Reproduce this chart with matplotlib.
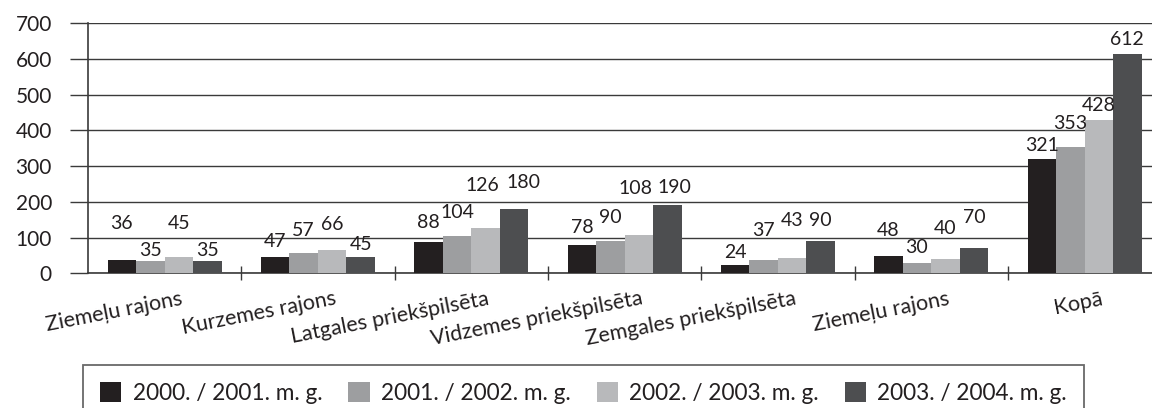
import numpy as np
import matplotlib
matplotlib.use("Agg")
import matplotlib.pyplot as plt
from matplotlib.patches import Patch
from matplotlib.transforms import ScaledTranslation

plt.rcParams['font.family'] = ['Lato', 'DejaVu Sans']

categories = ["Ziemeļu rajons", "Kurzemes rajons", "Latgales priekšpilsēta",
              "Vidzemes priekšpilsēta", "Zemgales priekšpilsēta",
              "Ziemeļu rajons", "Kopā"]
series_names = ["2000. / 2001. m. g.", "2001. / 2002. m. g.",
                "2002. / 2003. m. g.", "2003. / 2004. m. g."]
y2000 = [36, 47, 88, 78, 24, 48, 321]
y2001 = [35, 57, 104, 90, 37, 30, 353]
y2002 = [45, 66, 126, 108, 43, 40, 428]
y2003 = [35, 45, 180, 190, 90, 70, 612]
yticks = [0, 100, 200, 300, 400, 500, 600, 700]

# style: how far above its bar each value label sits (the original staggers them)
lift2000 = [104, 43, 55, 51, 35, 72, 37]
lift2001 = [29, 63, 67, 67, 83, 43, 67]
lift2002 = [95, 71, 120, 130, 105, 86, 40]
lift2003 = [29, 36, 75, 51, 58, 87, 43]
# small sideways nudges (pixels) of a few labels, keyed (series, group)
nudge = {(2, 2): -3, (3, 2): 9, (2, 3): -3, (3, 3): 7}

colors = ['#231f20', '#9d9ea0', '#b8b9bb', '#4d4e50']
txt = '#231f20'
grid = '#3a3a3a'

fig = plt.figure(figsize=(11.52, 4.08), dpi=100)
ax = fig.add_axes([88 / 1152, 0.330, 1 - 88 / 1152, 0.6136])

x = np.arange(len(categories))
w = 0.186
all_series = [y2000, y2001, y2002, y2003]
all_lifts = [lift2000, lift2001, lift2002, lift2003]
for i, (vals, lifts) in enumerate(zip(all_series, all_lifts)):
    xs = x + (i - 1.5) * w
    ax.bar(xs, vals, width=w, color=colors[i], zorder=3)
    for j, (xx, v, l) in enumerate(zip(xs, vals, lifts)):
        t = ax.text(xx, v + l, str(v), ha='center', va='center',
                    fontsize=14, color=txt, zorder=4)
        if (i, j) in nudge:
            t.set_transform(ax.transData + ScaledTranslation(
                nudge[(i, j)] / 100, 0, fig.dpi_scale_trans))

ax.set_xlim(-0.5, 6.44)
ax.set_ylim(0, 700)
ax.set_yticks(yticks)
ax.yaxis.grid(True, color=grid, linewidth=1)
ax.set_axisbelow(True)
ax.tick_params(axis='y', length=13, width=1, color=grid, pad=13,
               labelsize=15, labelcolor=txt)

# group separators as major ticks, names on minor ticks
ax.set_xticks(np.arange(0.5, 6.5, 1.0))
ax.set_xticklabels([])
ax.tick_params(axis='x', which='major', direction='inout', length=10,
               width=1, color=grid)
ax.set_xticks(x, minor=True)
ax.set_xticklabels(categories, minor=True, rotation=11, ha='right',
                   va='top', rotation_mode='anchor', fontsize=15.5, color=txt)
ax.tick_params(axis='x', which='minor', length=0, pad=11)
off = ScaledTranslation(16 / 100, 0, fig.dpi_scale_trans)
for lab in ax.get_xticklabels(minor=True):
    lab.set_transform(lab.get_transform() + off)

for s in ['top', 'right']:
    ax.spines[s].set_visible(False)
ax.spines['left'].set_color(grid)
ax.spines['bottom'].set_color(grid)
ax.spines['left'].set_linewidth(1.2)
ax.spines['bottom'].set_linewidth(1.2)

handles = [Patch(facecolor=c, edgecolor='none') for c in colors]
leg = fig.legend(handles, series_names, loc='upper left',
                 bbox_to_anchor=(83 / 1152, 1 - 365 / 408), ncol=4,
                 frameon=True, fancybox=False, borderaxespad=0,
                 borderpad=0.75, handlelength=0.95, handleheight=0.95,
                 handletextpad=0.49, columnspacing=1.15, fontsize=16.3)
leg.get_frame().set_edgecolor('#444444')
leg.get_frame().set_linewidth(1.3)
for t in leg.get_texts():
    t.set_color(txt)

fig.savefig('out.png', dpi=100)
